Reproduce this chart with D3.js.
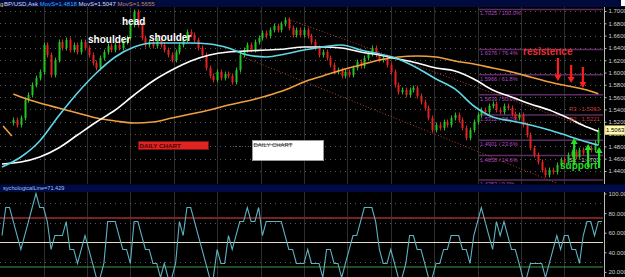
<!DOCTYPE html>
<html><head><meta charset="utf-8">
<script src="https://cdn.jsdelivr.net/npm/d3@7/dist/d3.min.js"></script>
<style>html,body{margin:0;padding:0;background:#000;overflow:hidden}svg{display:block}</style>
</head><body>
<svg id="c" width="625" height="277"></svg>
<script>
// ---------- DATA ----------
const N = 160;
const firstOpen = 1.5180;
const closes = [null,null,null,
1.5229,1.5148,1.5261,1.5554,1.5635,1.5798,1.5911,1.6009,1.6448,1.6285,
1.5960,1.6204,1.6496,1.6399,1.6529,1.6366,1.6448,1.6334,1.6496,1.6399,
1.6285,1.6155,1.6074,1.6236,1.6334,1.6431,1.6366,1.6448,1.6399,1.6496,
1.6561,1.6773,1.6984,1.6773,1.6561,1.6448,1.6496,1.6431,1.6529,1.6448,
1.6366,1.6285,1.6204,1.6334,1.6448,1.6529,1.6659,1.6610,1.6529,1.6399,
1.6285,1.6074,1.5944,1.5879,1.6009,1.5911,1.5976,1.5944,1.5846,1.6041,
1.6285,1.6366,1.6448,1.6366,1.6496,1.6561,1.6643,1.6594,1.6691,1.6756,
1.6691,1.6789,1.6854,1.6724,1.6610,1.6691,1.6610,1.6691,1.6594,1.6496,
1.6399,1.6285,1.6334,1.6236,1.6123,1.6009,1.6041,1.5944,1.6009,1.5960,
1.6074,1.6171,1.6106,1.6236,1.6301,1.6399,1.6285,1.6204,1.6236,1.6123,
1.6009,1.5798,1.5684,1.5716,1.5635,1.5716,1.5749,1.5619,1.5521,1.5424,
1.5261,1.5066,1.5148,1.5099,1.5196,1.5148,1.5261,1.5310,1.5229,1.5099,
1.4936,1.5066,1.5196,1.5310,1.5391,1.5359,1.5456,1.5489,1.5391,1.5359,
1.5456,1.5424,1.5326,1.5261,1.5310,1.5148,1.4985,1.4774,1.4660,1.4546,
1.4416,1.4335,1.4416,1.4384,1.4498,1.4579,1.4530,1.4660,1.4709,1.4628,
1.4741,1.4693,1.4774,1.4741,1.4855,1.5063,null];

const maIdx = [0,5,10,15,20,25,30,35,40,45,50,55,60,65,70,75,80,85,90,95,100,105,110,115,120,125,130,135,140,145,150,155,158];
const maFast = [1.4465,1.4628,1.4888,1.5294,1.5668,1.5993,1.6253,1.6415,1.6480,1.6480,1.6480,1.6464,1.6399,1.6285,1.6253,1.6301,1.6366,1.6415,1.6448,1.6366,1.6301,1.6220,1.6074,1.5895,1.5733,1.5456,1.5278,1.5213,1.5148,1.5066,1.4969,1.4871,1.4818];
const maMid = [1.4514,1.4546,1.4628,1.4774,1.4985,1.5196,1.5391,1.5635,1.5863,1.6041,1.6188,1.6285,1.6334,1.6350,1.6366,1.6383,1.6415,1.6415,1.6399,1.6334,1.6285,1.6220,1.6155,1.6074,1.6025,1.5895,1.5716,1.5603,1.5489,1.5391,1.5261,1.5115,1.5047];
const maSlowIdx = [3,5,10,15,20,25,30,35,40,45,50,55,60,65,70,75,80,85,90,95,100,105,110,115,120,125,130,135,140,145,150,155,158];
const maSlow = [1.5651,1.5603,1.5505,1.5424,1.5343,1.5261,1.5213,1.5180,1.5196,1.5261,1.5326,1.5391,1.5473,1.5538,1.5619,1.5716,1.5846,1.5944,1.6041,1.6123,1.6204,1.6253,1.6269,1.6253,1.6188,1.6139,1.6074,1.6009,1.5928,1.5846,1.5781,1.5716,1.5655];
const maSlowStubIdx = [0.3, 2.6];
const maSlowStub = [1.5131, 1.4969];

const psych = [57.1,85.7,85.7,71.4,57.1,42.9,57.1,71.4,85.7,100,
85.7,85.7,71.4,42.9,57.1,57.1,57.1,71.4,42.9,42.9,
28.6,42.9,57.1,42.9,28.6,14.3,14.3,28.6,71.4,71.4,
71.4,57.1,42.9,42.9,28.6,71.4,71.4,57.1,42.9,42.9,
28.6,28.6,14.3,28.6,14.3,14.3,28.6,71.4,57.1,85.7,
85.7,71.4,57.1,42.9,28.6,14.3,14.3,42.9,28.6,28.6,
57.1,42.9,57.1,71.4,71.4,85.7,71.4,71.4,85.7,57.1,
71.4,71.4,71.4,71.4,71.4,57.1,42.9,42.9,28.6,28.6,
28.6,42.9,28.6,28.6,28.6,14.3,42.9,42.9,28.6,28.6,
14.3,28.6,42.9,57.1,57.1,71.4,85.7,85.7,85.7,71.4,
42.9,28.6,28.6,42.9,28.6,14.3,14.3,28.6,57.1,57.1,
42.9,42.9,28.6,14.3,14.3,28.6,28.6,42.9,42.9,57.1,
57.1,57.1,42.9,42.9,28.6,57.1,71.4,85.7,71.4,57.1,
42.9,71.4,57.1,71.4,57.1,42.9,42.9,28.6,14.3,14.3,
28.6,28.6,28.6,28.6,14.3,28.6,42.9,57.1,42.9,57.1,
57.1,42.9,42.9,28.6,57.1,71.4,71.4,57.1,71.4,71.4];

const priceTicks = [1.44,1.46,1.48,1.50,1.52,1.54,1.56,1.58,1.60,1.62,1.64,1.66,1.68,1.70];
const psychTicks = [20,40,60,80,100];
const psychGrid = [90,70,30];
const psychLevels = [75,50,25];
const vGridIdx = [11,22.5,34,45.5,57,68.5,80,91.5,103,114.5,126,137.5,149];

const fibLevels = [1.7025,1.6376,1.5966,1.5639,1.5312,1.4901,1.4650,1.4253];
const fibPct = ["100.0%","76.4%","61.8%","50.0%","38.2%","23.6%","14.6%","0.0%"];
const fibStartIdx = 126.4;
const channelUpper = [[75,1.6886],[158.4,1.5034]];
const channelLower = [[63.9,1.6253],[146.8,1.4205]];
const pivots = [{t:"R3 : 1.5363", i:150.2, p:1.5370, c:"#c83a3a"},{t:"R2 : 1.5221", i:150.2, p:1.5216, c:"#c83a3a"},{t:"S1 : 1.4701", i:150.2, p:1.4546, c:"#d8d8d8"}];
const lastPrice = 1.5063;
const redArrows = [[147.3,1.6236,1.5863],[150.8,1.6123,1.5830],[153.9,1.6090,1.5749]];
const greenArrows = [[151.6,1.4498,1.4936],[155.3,1.4465,1.4839],[158.2,1.4449,1.4790]];
const movs = ["MovS=1.4818","MovS=1.5047","MovS=1.5655"];

// ---------- LAYOUT ----------
const W = 625, H = 277, AX = 604;
const svg = d3.select("#c");
const x = d3.scaleLinear().domain([0, N-1]).range([2, 602.1]);
const y = d3.scaleLinear().domain([1.44, 1.70]).range([171, 11]);
const yp = d3.scaleLinear().domain([20, 100]).range([271.9, 193.5]);
const FONT = "'Liberation Sans', Arial, sans-serif";

svg.append("rect").attr("width", W).attr("height", H).attr("fill", "#000");
const defs = svg.append("defs");
defs.append("clipPath").attr("id","cm").append("rect").attr("x",0).attr("y",7).attr("width",AX).attr("height",177);
defs.append("clipPath").attr("id","cp").append("rect").attr("x",0).attr("y",192).attr("width",AX).attr("height",85);

const gm = svg.append("g").attr("clip-path","url(#cm)");
const gp = svg.append("g").attr("clip-path","url(#cp)");

// vertical grid
[[gm,7,184],[gp,192,277]].forEach(([g,a,b])=>{
  g.selectAll(null).data(vGridIdx).join("line")
   .attr("x1",d=>Math.round(x(d))+0.5).attr("x2",d=>Math.round(x(d))+0.5)
   .attr("y1",a).attr("y2",b).attr("stroke","#2e2e2e").attr("stroke-width",1);
});
// horizontal dotted grid
gm.selectAll(null).data(priceTicks).join("line")
  .attr("x1",0).attr("x2",AX).attr("y1",d=>Math.round(y(d))+0.5).attr("y2",d=>Math.round(y(d))+0.5)
  .attr("stroke","#5a5a5a").attr("stroke-dasharray","1,4");
gp.selectAll(null).data(psychGrid).join("line")
  .attr("x1",0).attr("x2",AX).attr("y1",d=>Math.round(yp(d))+0.5).attr("y2",d=>Math.round(yp(d))+0.5)
  .attr("stroke","#5a5a5a").attr("stroke-dasharray","1,4");

// fibonacci
gm.selectAll(null).data(fibLevels).join("line")
  .attr("x1",x(fibStartIdx)).attr("x2",AX-1).attr("y1",d=>y(d)).attr("y2",d=>y(d))
  .attr("stroke","#5b2d62").attr("stroke-width",1.5);
gm.selectAll(null).data(fibLevels).join("text")
  .attr("x",x(fibStartIdx)+1).attr("y",d=>y(d)+6)
  .attr("fill","#b348c0").attr("font-family",FONT).attr("font-size",5.6)
  .text((d,i)=>d.toFixed(4)+" / "+fibPct[i]);

// channel
const lineXY = d3.line().x(d=>x(d[0])).y(d=>y(d[1]));
[channelUpper, channelLower].forEach(c=>{
  gm.append("path").attr("d",lineXY(c)).attr("fill","none")
    .attr("stroke","#b0402c").attr("stroke-width",1).attr("stroke-dasharray","1,2");
});

// candles
const candles = [];
closes.forEach((c,i)=>{ if(c==null) return; const o = (i>0 && closes[i-1]!=null)? closes[i-1] : firstOpen; candles.push({i,o,c}); });
const wick = 0.004;
const up = "#22c422", dn = "#e42222";
gm.selectAll(null).data(candles).join("line")
  .attr("x1",d=>Math.round(x(d.i))+0.5).attr("x2",d=>Math.round(x(d.i))+0.5)
  .attr("y1",d=>y(Math.max(d.o,d.c)+wick)).attr("y2",d=>y(Math.min(d.o,d.c)-wick))
  .attr("stroke",d=>d.c>=d.o?up:dn).attr("stroke-width",1);
gm.selectAll(null).data(candles).join("rect")
  .attr("x",d=>Math.round(x(d.i))-0.5).attr("width",2)
  .attr("y",d=>y(Math.max(d.o,d.c))).attr("height",d=>Math.max(1.2, y(Math.min(d.o,d.c))-y(Math.max(d.o,d.c))))
  .attr("fill",d=>d.c>=d.o?up:dn);

// moving averages
const maLine = (idx)=> d3.line().x((d,k)=>x(idx[k])).y(d=>y(d)).curve(d3.curveMonotoneX);
gm.append("path").attr("d",maLine(maSlowStubIdx)(maSlowStub)).attr("fill","none").attr("stroke","#f0a040").attr("stroke-width",1.6);
gm.append("path").attr("d",maLine(maSlowIdx)(maSlow)).attr("fill","none").attr("stroke","#f0a040").attr("stroke-width",1.6);
gm.append("path").attr("d",maLine(maIdx)(maMid)).attr("fill","none").attr("stroke","#ffffff").attr("stroke-width",1.6);
gm.append("path").attr("d",maLine(maIdx)(maFast)).attr("fill","none").attr("stroke","#5fd8e8").attr("stroke-width",1.6);

// pivots
gm.selectAll(null).data(pivots).join("text")
  .attr("x",d=>x(d.i)).attr("y",d=>y(d.p)).attr("fill",d=>d.c)
  .attr("font-family",FONT).attr("font-size",6).text(d=>d.t);

// annotations
const ann = (t,i,p,c)=> gm.append("text").attr("x",x(i)).attr("y",y(p)).attr("fill",c)
  .attr("font-family",FONT).attr("font-weight","bold").attr("font-size",10).text(t);
ann("shoulder", 22.8, 1.6480, "#ffffff");
ann("head", 31.8, 1.6780, "#ffffff");
ann("shoulder", 38.95, 1.6513, "#ffffff");
ann("resistence", 138.05, 1.6277, "#e83030");
ann("support", 147.85, 1.4428, "#2ad82a");

function arrow(g, i, p0, p1, col){
  const xx = x(i), y0 = y(p0), y1 = y(p1);
  const dir = y1 > y0 ? 1 : -1;
  g.append("line").attr("x1",xx).attr("x2",xx).attr("y1",y0).attr("y2",y1-dir*5)
   .attr("stroke",col).attr("stroke-width",2.2);
  g.append("path").attr("d",`M${xx-3.5},${y1-dir*6}L${xx+3.5},${y1-dir*6}L${xx},${y1}Z`).attr("fill",col);
}
redArrows.forEach(a=>arrow(gm,a[0],a[1],a[2],"#ff1e1e"));
greenArrows.forEach(a=>arrow(gm,a[0],a[1],a[2],"#22e022"));

// DAILY CHART boxes
gm.append("rect").attr("x",138.5).attr("y",141.5).attr("width",70).attr("height",8)
  .attr("fill","#e02424").attr("stroke","#7a1010");
gm.append("text").attr("x",139.5).attr("y",148).attr("fill","#4a0000").attr("font-family",FONT)
  .attr("font-weight","bold").attr("font-size",6.2).text("DAILY CHART");
gm.append("line").attr("x1",233).attr("x2",250).attr("y1",146.5).attr("y2",146.5).attr("stroke","#555").attr("stroke-dasharray","1,2");
gm.append("rect").attr("x",252.5).attr("y",140.5).attr("width",71).attr("height",20)
  .attr("fill","#ffffff").attr("stroke","#999");
gm.append("text").attr("x",253.5).attr("y",146.5).attr("fill","#333").attr("font-family",FONT)
  .attr("font-size",6).attr("text-decoration","line-through").text("DAILY CHART");

// psychological line panel
const lvlCol = ["#7a2020","#e6dcc2","#3f9a3f"], lvlW = [2,1,1];
gp.selectAll(null).data(psychLevels).join("line")
  .attr("x1",0).attr("x2",AX-1).attr("y1",d=>yp(d)).attr("y2",d=>yp(d))
  .attr("stroke",(d,i)=>lvlCol[i]).attr("stroke-width",(d,i)=>lvlW[i]);
gp.append("path").attr("d", d3.line().x((d,i)=>x(i)).y(d=>yp(d))(psych))
  .attr("fill","none").attr("stroke","#5fb2c2").attr("stroke-width",1.1);

// bars
svg.append("rect").attr("x",0).attr("y",0).attr("width",W).attr("height",7).attr("fill","#000a3c");
svg.append("rect").attr("x",0).attr("y",184.5).attr("width",W).attr("height",7.5).attr("fill","#000a44");
svg.append("rect").attr("x",621).attr("y",0).attr("width",4).attr("height",6).attr("fill","#fff");
svg.append("text").attr("x",0).attr("y",5.6).attr("fill","#e6d070").attr("font-family",FONT).attr("font-size",6).text("g");
const tt = svg.append("text").attr("x",4).attr("y",5.6).attr("font-family",FONT).attr("font-size",6);
tt.append("tspan").attr("fill","#d8d8e8").text("BP/USD,Ask ");
tt.append("tspan").attr("fill","#3aa8f0").text(movs[0]+" ");
tt.append("tspan").attr("fill","#dcdcdc").text(movs[1]+" ");
tt.append("tspan").attr("fill","#c08850").text(movs[2]);
svg.append("text").attr("x",3).attr("y",190.3).attr("fill","#9ec8f0").attr("font-family",FONT).attr("font-size",5.6).text("sychologicalLine=71.429");

// axes
const axM = svg.append("g").attr("transform",`translate(${AX+0.5},0)`)
  .call(d3.axisRight(y).tickValues(priceTicks).tickFormat(d3.format(".4f")).tickSize(2).tickPadding(2));
const axP = svg.append("g").attr("transform",`translate(${AX+0.5},0)`)
  .call(d3.axisRight(yp).tickValues(psychTicks).tickFormat(d3.format(".3f")).tickSize(2).tickPadding(2));
[axM,axP].forEach(a=>{
  a.select(".domain").remove();
  a.selectAll("line").attr("stroke","#bbb");
  a.selectAll("text").attr("fill","#cfcfcf").attr("font-family",FONT).attr("font-size",6);
});
svg.append("line").attr("x1",AX+0.5).attr("x2",AX+0.5).attr("y1",7).attr("y2",184).attr("stroke","#bbb");
svg.append("line").attr("x1",AX+0.5).attr("x2",AX+0.5).attr("y1",192).attr("y2",277).attr("stroke","#bbb");

// last price box
svg.append("rect").attr("x",AX+1).attr("y",y(lastPrice)-4.5).attr("width",W-AX-1).attr("height",9)
  .attr("fill","#fff8b0").attr("stroke","#c8b040").attr("stroke-width",0.6);
svg.append("text").attr("x",AX+2).attr("y",y(lastPrice)+2.2).attr("fill","#000").attr("font-family",FONT)
  .attr("font-size",6).text(lastPrice.toFixed(4));
</script>
</body></html>
